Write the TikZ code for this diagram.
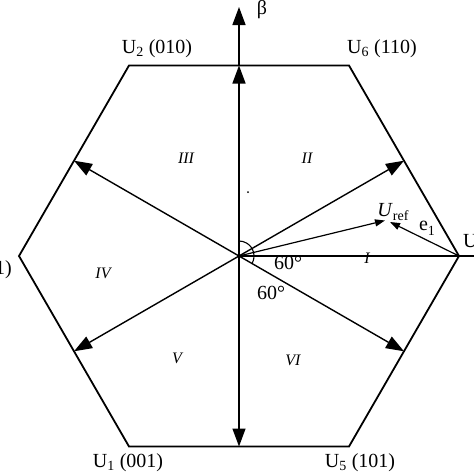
\documentclass[tikz,border=0pt]{standalone}
\usepackage{fontspec}
\setmainfont{Liberation Serif}
\usetikzlibrary{arrows.meta}
\begin{document}
\begin{tikzpicture}[x=1pt,y=-1pt,
  hexline/.style={line width=1.8pt,line join=miter},
  vec/.style={line width=1.4pt,-{Triangle[length=18pt,width=13pt]}},
  smallvec/.style={line width=1.2pt,-{Triangle[length=10pt,width=7pt]}},
  lab/.style={font=\fontsize{20}{22}\selectfont,inner sep=0pt},
  sect/.style={font=\fontsize{16}{18}\selectfont\itshape,inner sep=0pt}]
\useasboundingbox (0,0) rectangle (474,474);
\coordinate (O) at (239,256);
\coordinate (V0) at (459,256);
\coordinate (V60) at (349,65.5);
\coordinate (V120) at (129,65.5);
\coordinate (V180) at (19,256);
\coordinate (V240) at (129,446.5);
\coordinate (V300) at (349,446.5);
\coordinate (M30) at (404,160.7);
\coordinate (M90) at (239,65.5);
\coordinate (M150) at (74,160.7);
\coordinate (M210) at (74,351.3);
\coordinate (M270) at (239,446.5);
\coordinate (M330) at (404,351.3);
\coordinate (Btop) at (239,7);
\coordinate (Aend) at (476,256);
\coordinate (Ur) at (385,220.5);
\coordinate (Et) at (390,222);
% hexagon
\draw[hexline] (V0) -- (V60) -- (V120) -- (V180) -- (V240) -- (V300) -- cycle;
% axes
\draw[line width=1.4pt] (O) -- (Aend);
\draw[vec] (M90) -- (Btop);
% vectors
\draw[vec] (O) -- (M90);
\draw[vec] (O) -- (M30);
\draw[vec] (O) -- (M150);
\draw[vec] (O) -- (M210);
\draw[vec] (O) -- (M270);
\draw[vec] (O) -- (M330);
\draw[smallvec] (O) -- (Ur);
\draw[smallvec] (V0) -- (Et);
% angle arc
\draw[line width=1.1pt] (O) ++(30:15) arc[start angle=30,end angle=-90,radius=15];
% labels
\node[lab] (b) at (262,10) {β};
\node[lab] (u2) at (157,49) {U\textsubscript{2} (010)};
\node[lab] (u6) at (382,49) {U\textsubscript{6} (110)};
\node[lab] (u1) at (128,463) {U\textsubscript{1} (001)};
\node[lab] (u5) at (360,463) {U\textsubscript{5} (101)};
\node[lab,anchor=west] (u4) at (463,243) {U\textsubscript{4} (100)};
\node[lab,anchor=east] (u3) at (12,270) {U\textsubscript{3} (011)};
\node[lab] (uref) at (393,212) {\textit{U}\raisebox{-0.35ex}{\fontsize{14}{14}\selectfont ref}};
\node[lab] (e1) at (427,228) {e\raisebox{-0.5ex}{\fontsize{14}{14}\selectfont 1}};
\node[lab] (a1) at (288,263) {60°};
\node[lab] (a2) at (271,293) {60°};
\node[sect] (s1) at (367,258) {I};
\node[sect] (s2) at (307,158) {II};
\node[sect] (s3) at (186,158) {III};
\node[sect] (s4) at (103,273) {IV};
\node[sect] (s5) at (177,358) {V};
\node[sect] (s6) at (293,360) {VI};
\fill (248,192) circle (1pt);
\end{tikzpicture}
\end{document}
